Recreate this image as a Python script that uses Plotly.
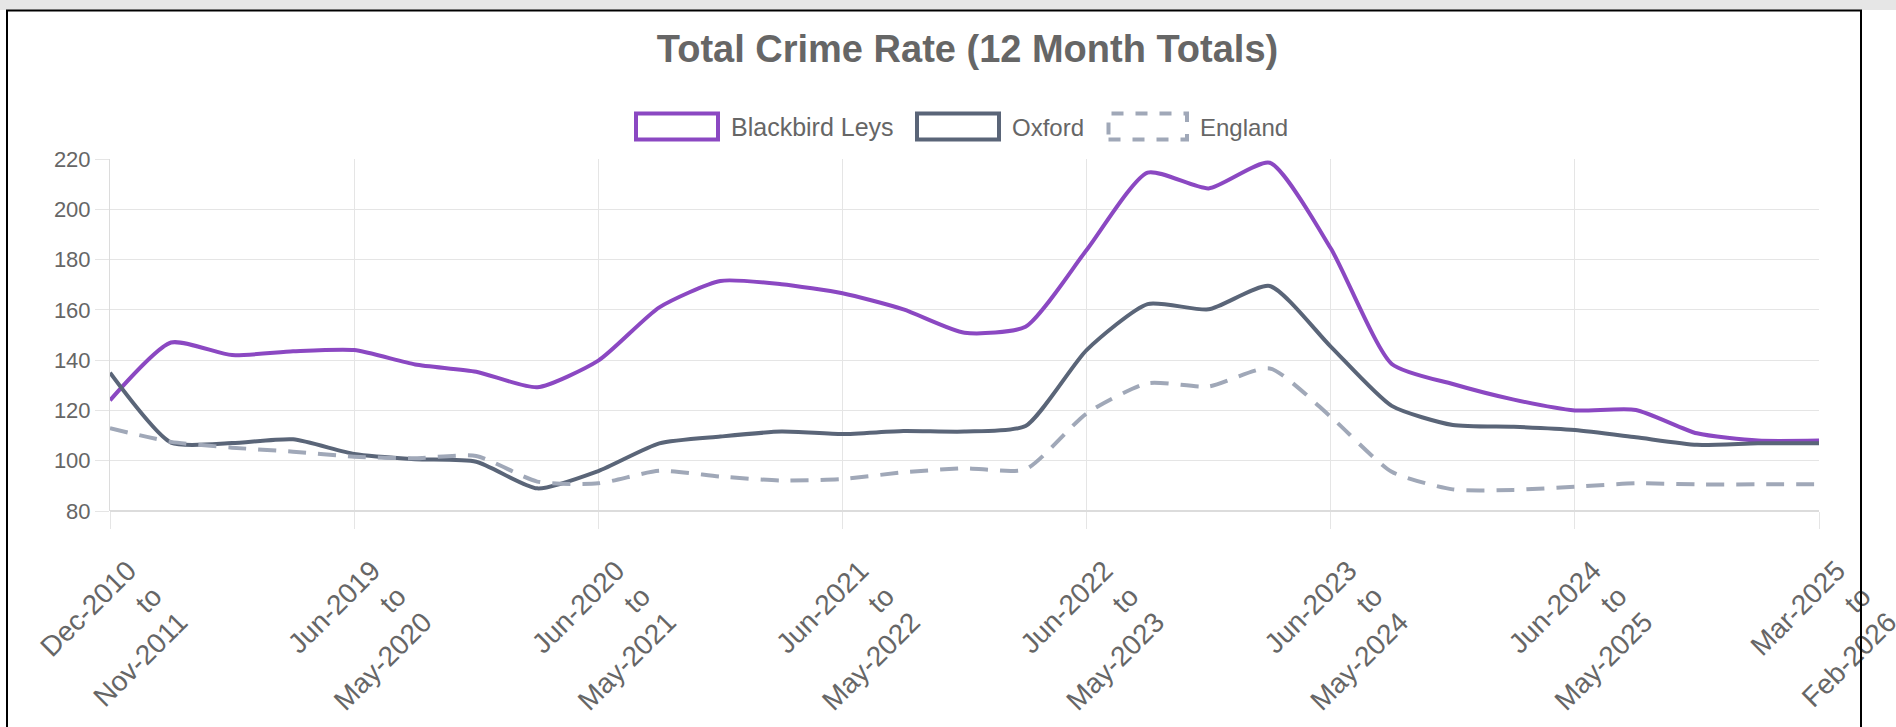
import plotly.graph_objects as go

# ---------------- data ----------------
periods = [
    "Dec-2010 to Nov-2011", "Sep-2018 to Aug-2019", "Dec-2018 to Nov-2019", "Mar-2019 to Feb-2020",
    "Jun-2019 to May-2020", "Sep-2019 to Aug-2020", "Dec-2019 to Nov-2020", "Mar-2020 to Feb-2021",
    "Jun-2020 to May-2021", "Sep-2020 to Aug-2021", "Dec-2020 to Nov-2021", "Mar-2021 to Feb-2022",
    "Jun-2021 to May-2022", "Sep-2021 to Aug-2022", "Dec-2021 to Nov-2022", "Mar-2022 to Feb-2023",
    "Jun-2022 to May-2023", "Sep-2022 to Aug-2023", "Dec-2022 to Nov-2023", "Mar-2023 to Feb-2024",
    "Jun-2023 to May-2024", "Sep-2023 to Aug-2024", "Dec-2023 to Nov-2024", "Mar-2024 to Feb-2025",
    "Jun-2024 to May-2025", "Sep-2024 to Aug-2025", "Dec-2024 to Nov-2025", "Feb-2025 to Jan-2026",
    "Mar-2025 to Feb-2026",
]
shown_labels = [
    "Dec-2010 to Nov-2011", "Jun-2019 to May-2020", "Jun-2020 to May-2021", "Jun-2021 to May-2022",
    "Jun-2022 to May-2023", "Jun-2023 to May-2024", "Jun-2024 to May-2025", "Mar-2025 to Feb-2026",
]
blackbird_leys = [124, 147, 142, 143.5, 144, 138.3, 135.4, 129.2, 139.8, 161, 171.5, 170.2, 166.6, 160.2,
                  150.9, 153.3, 183.8, 214.6, 208.3, 218.5, 184.5, 138.5, 130.5, 124.3, 120, 120.2,
                  110.9, 108, 108]
oxford = [135, 107.2, 107, 108.5, 102.7, 100.6, 99.6, 89, 95.9, 106.9, 109.6, 111.6, 110.6, 111.8,
          111.6, 113.8, 144, 162.3, 160.2, 169.5, 145.4, 121.8, 114.2, 113.5, 112.2, 109.3, 106.3,
          106.9, 106.9]
england = [112.9, 107.5, 105.2, 103.6, 101.6, 101, 101.9, 91.7, 91, 96, 93.7, 92.1, 92.7, 95.4, 97,
           96.6, 118.8, 130.8, 129.5, 136.7, 117.5, 95.6, 88.6, 88.4, 89.7, 91, 90.6, 90.6, 90.6]
series_names = ["Blackbird Leys", "Oxford", "England"]
y_ticks = [80, 100, 120, 140, 160, 180, 200, 220]

# ---------------- styling ----------------
W, H = 1896, 727
L, R, T, B = 110, 1819, 159, 511
FONT = "Liberation Sans, Arial, Helvetica, sans-serif"
TXT = "#666666"
GRID = "#e5e5e5"
C_BL = "#8b48c2"
C_OX = "#5a6578"
C_EN = "#a0a8b8"


def px(x):
    return (x - L) / (R - L)


def py(y):
    return (B - y) / (B - T)


fig = go.Figure()
fig.add_trace(go.Scatter(x=periods, y=blackbird_leys, name=series_names[0], mode="lines",
                         line=dict(color=C_BL, width=4, shape="spline", smoothing=0.6)))
fig.add_trace(go.Scatter(x=periods, y=oxford, name=series_names[1], mode="lines",
                         line=dict(color=C_OX, width=4, shape="spline", smoothing=0.6)))
fig.add_trace(go.Scatter(x=periods, y=england, name=series_names[2], mode="lines",
                         line=dict(color=C_EN, width=4, shape="spline", smoothing=0.6,
                                   dash="18px,12px")))

shapes = [
    # page chrome
    dict(type="rect", xref="paper", yref="paper", x0=px(0), x1=px(W), y0=py(0), y1=py(10),
         fillcolor="#e6e6e6", line=dict(width=0), layer="below"),
    dict(type="rect", xref="paper", yref="paper", x0=px(7), x1=px(1861), y0=py(10.5), y1=py(H + 20),
         fillcolor="rgba(0,0,0,0)", line=dict(color="#000000", width=2), layer="above"),
]

# custom legend (box swatches like the original)
legend_items = [
    (series_names[0], C_BL, "solid", 636, 718, 729),
    (series_names[1], C_OX, "solid", 917, 999, 1010),
    (series_names[2], C_EN, "dash", 1108.5, 1187, 1198),
]
annotations = []
for name, col, dash, bx0, bx1, tx in legend_items:
    shapes.append(dict(type="rect", xref="paper", yref="paper", x0=px(bx0), x1=px(bx1),
                       y0=py(139.5), y1=py(113.5), fillcolor="#ffffff",
                       line=dict(color=col, width=4, dash=dash)))
    annotations.append(dict(xref="paper", yref="paper", x=px(tx), y=py(127), text=name,
                            showarrow=False, xanchor="left", yanchor="middle",
                            font=dict(family=FONT, size=25 if name == series_names[0] else 24,
                                      color=TXT)))

fig.update_layout(
    width=W, height=H, autosize=False,
    margin=dict(l=L, r=W - R, t=T, b=H - B, pad=0, autoexpand=False),
    paper_bgcolor="#ffffff", plot_bgcolor="#ffffff",
    showlegend=False,
    title=dict(text="<b>Total Crime Rate (12 Month Totals)</b>", x=967.5 / W, xref="container",
               xanchor="center", y=1 - 49 / H, yref="container", yanchor="middle",
               font=dict(family=FONT, size=38, color=TXT)),
    font=dict(family=FONT, color=TXT),
    shapes=shapes,
    annotations=annotations,
)
fig.update_xaxes(
    type="category", range=[0, len(periods) - 1], automargin=False,
    tickmode="array", tickvals=shown_labels,
    ticktext=[s.replace(" to ", "<br>to<br>") for s in shown_labels],
    tickangle=-45, tickfont=dict(family=FONT, size=28, color=TXT),
    ticklabelstandoff=14, ticklabelshift=18,
    showgrid=True, gridcolor=GRID, gridwidth=1,
    ticks="outside", ticklen=17, tickcolor=GRID, tickwidth=1,
    showline=False, zeroline=False,
)
fig.update_yaxes(
    range=[80, 220], tickmode="array", tickvals=y_ticks, automargin=False,
    tickfont=dict(family=FONT, size=22, color=TXT),
    showgrid=True, gridcolor=GRID, gridwidth=1,
    ticks="outside", ticklen=14, tickcolor=GRID, tickwidth=1,
    ticklabelstandoff=0,
    showline=True, linecolor="#dcdcdc", linewidth=1, zeroline=False,
)
# bottom axis line slightly stronger like the original
fig.add_shape(type="line", xref="paper", yref="paper", x0=0, x1=1, y0=0, y1=0,
              line=dict(color="#dcdcdc", width=2))

fig.write_html("out.html", config={"displayModeBar": False},
               post_script="document.body.style.margin='0px';document.body.style.overflow='hidden';")
